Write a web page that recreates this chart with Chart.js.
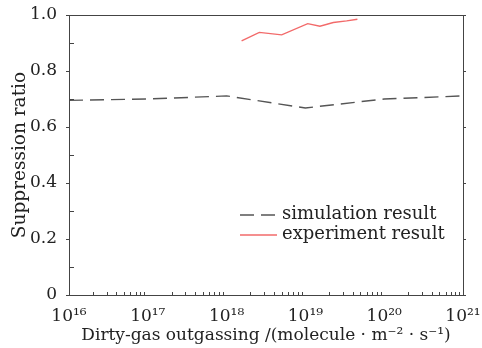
<!DOCTYPE html>
<html>
<head>
<meta charset="utf-8">
<script src="https://cdn.jsdelivr.net/npm/chart.js@4"></script>
<style>
  html, body { margin: 0; background: #fff; }
</style>
</head>
<body>
<canvas id="suppressionChart" width="482" height="348"></canvas>
<script>
  // simulation (dashed) and experiment (red) curves
  const simX = [1e16, 1e17, 1e18, 1e19, 1e20, 1e21];
  const simY = [0.695, 0.700, 0.711, 0.668, 0.700, 0.711];
  const expX = [1.55e18, 2.6e18, 5.0e18, 1.07e19, 1.53e19, 2.26e19, 3.34e19, 4.57e19];
  const expY = [0.908, 0.938, 0.929, 0.969, 0.960, 0.973, 0.979, 0.985];
  const xTicks = [1e16, 1e17, 1e18, 1e19, 1e20, 1e21];
  const yTicks = [0, 0.2, 0.4, 0.6, 0.8, 1.0];
  const seriesNames = ['simulation result', 'experiment result'];

  const FONT = 'DejaVu Serif';
  const sup = { '0': '⁰', '1': '¹', '2': '²', '3': '³', '4': '⁴', '5': '⁵', '6': '⁶', '7': '⁷', '8': '⁸', '9': '⁹' };
  function pow10Label(v) {
    const e = String(Math.round(Math.log10(v)));
    return '10' + e.split('').map(c => sup[c]).join('');
  }

  // frame, inward/outward ticks and the legend inside the plot
  const framePlugin = {
    id: 'frame',
    afterDraw(chart) {
      const { ctx, chartArea: a, scales } = chart;
      const x = scales.x, y = scales.y;
      ctx.save();
      ctx.strokeStyle = '#444';
      ctx.lineWidth = 1;
      ctx.strokeRect(a.left + 0.5, a.top + 0.5, a.right - a.left, a.bottom - a.top);

      ctx.beginPath();
      // x minor ticks (inward)
      for (let d = 16; d < 21; d++) {
        for (let k = 2; k <= 9; k++) {
          const px = Math.round(x.getPixelForValue(k * Math.pow(10, d))) + 0.5;
          ctx.moveTo(px, a.bottom); ctx.lineTo(px, a.bottom - 3);
        }
      }
      // y ticks: major outward, minor inward
      yTicks.forEach(v => {
        const py = Math.round(y.getPixelForValue(v)) + 0.5;
        ctx.moveTo(a.left, py); ctx.lineTo(a.left - 3, py);
        ctx.moveTo(a.right, py); ctx.lineTo(a.right + 3, py);
      });
      for (let i = 0; i < yTicks.length - 1; i++) {
        const py = Math.round(y.getPixelForValue((yTicks[i] + yTicks[i + 1]) / 2)) + 0.5;
        ctx.moveTo(a.left, py); ctx.lineTo(a.left + 5, py);
      }
      ctx.stroke();

      // legend
      const lx = a.right - 223;
      const rows = [215, 235];
      chart.data.datasets.forEach((ds, i) => {
        ctx.beginPath();
        ctx.strokeStyle = ds.borderColor;
        ctx.lineWidth = ds.borderWidth;
        ctx.setLineDash(ds.borderDash || []);
        ctx.moveTo(lx, rows[i]); ctx.lineTo(lx + 37, rows[i]);
        ctx.stroke();
        ctx.setLineDash([]);
        ctx.fillStyle = '#222';
        ctx.font = '18px "' + FONT + '"';
        ctx.textBaseline = 'middle';
        ctx.fillText(ds.label, lx + 42, rows[i] - 1);
      });
      ctx.restore();
    }
  };

  const ctx = document.getElementById('suppressionChart').getContext('2d');
  new Chart(ctx, {
    type: 'line',
    data: {
      datasets: [{
        label: seriesNames[0],
        data: simX.map((v, i) => ({ x: v, y: simY[i] })),
        borderColor: '#555555',
        borderWidth: 1.4,
        borderDash: [14, 7],
        pointRadius: 0,
        tension: 0
      }, {
        label: seriesNames[1],
        data: expX.map((v, i) => ({ x: v, y: expY[i] })),
        borderColor: '#f26a6a',
        borderWidth: 1.4,
        pointRadius: 0,
        tension: 0
      }]
    },
    options: {
      responsive: false,
      animation: false,
      devicePixelRatio: 1,
      layout: { padding: { top: 15, right: 19, left: 0, bottom: 0 } },
      plugins: {
        legend: { display: false },
        tooltip: { enabled: false }
      },
      scales: {
        x: {
          type: 'logarithmic',
          min: 1e16,
          max: 1e21,
          afterBuildTicks: scale => { scale.ticks = xTicks.map(v => ({ value: v })); },
          afterFit: scale => { scale.height = 53; scale.paddingLeft = 0; scale.paddingRight = 0; },
          grid: { display: false },
          border: { display: false },
          ticks: {
            autoSkip: false,
            maxRotation: 0,
            padding: 3,
            color: '#222',
            font: { family: FONT, size: 17 },
            callback: v => pow10Label(v)
          },
          title: {
            display: true,
            text: 'Dirty-gas outgassing /(molecule · m⁻² · s⁻¹)',
            color: '#222',
            font: { family: FONT, size: 17 },
            padding: { top: 0, bottom: 2 }
          }
        },
        y: {
          min: 0,
          max: 1,
          afterBuildTicks: scale => { scale.ticks = yTicks.map(v => ({ value: v })); },
          afterFit: scale => { scale.width = 69; scale.paddingTop = 0; scale.paddingBottom = 0; },
          grid: { display: false },
          border: { display: false },
          ticks: {
            padding: 4,
            color: '#222',
            font: { family: FONT, size: 17 },
            callback: v => (v === 0 ? '0' : v.toFixed(1))
          },
          title: {
            display: true,
            text: 'Suppression ratio',
            color: '#222',
            font: { family: FONT, size: 18.5 },
            padding: { top: 9, bottom: 0 }
          }
        }
      }
    },
    plugins: [framePlugin]
  });
</script>
</body>
</html>
